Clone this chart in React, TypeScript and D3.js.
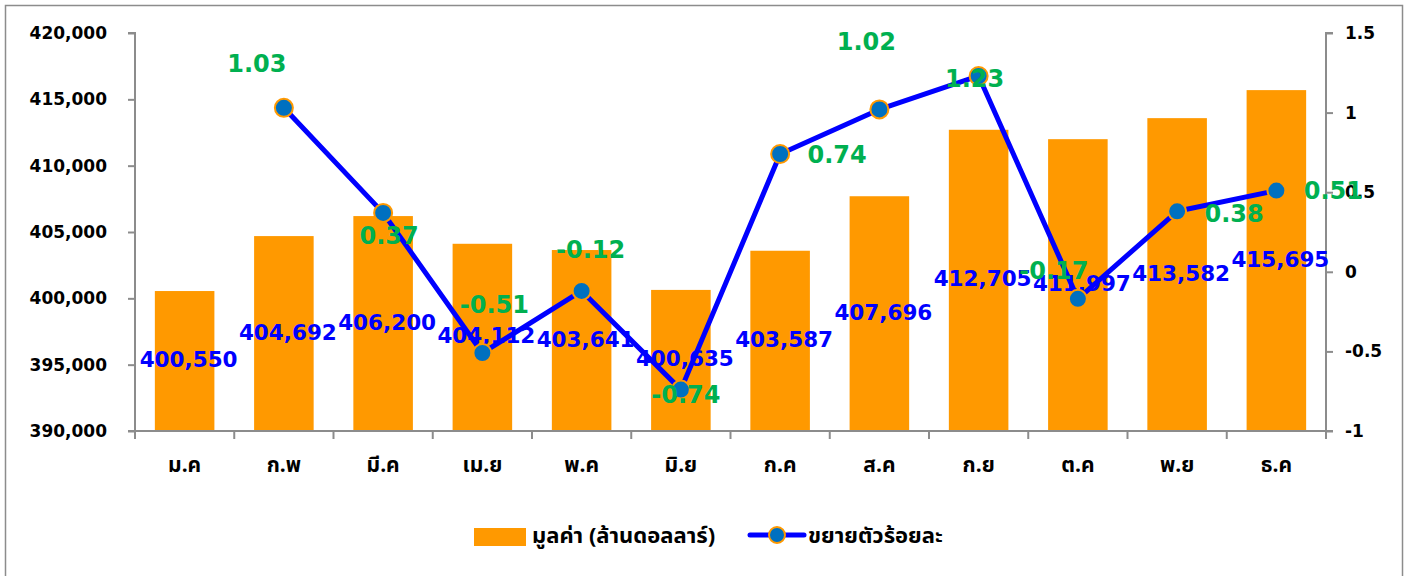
import React, { useEffect, useRef } from 'react';
import * as d3 from 'd3';

const months = ['ม.ค', 'ก.พ', 'มี.ค', 'เม.ย', 'พ.ค', 'มิ.ย', 'ก.ค', 'ส.ค', 'ก.ย', 'ต.ค', 'พ.ย', 'ธ.ค'];
const values = [400550, 404692, 406200, 404112, 403641, 400635, 403587, 407696, 412705, 411997, 413582, 415695];
const growth: (number | null)[] = [null, 1.03, 0.37, -0.51, -0.12, -0.74, 0.74, 1.02, 1.23, -0.17, 0.38, 0.51];
const leftTicks = [390000, 395000, 400000, 405000, 410000, 415000, 420000];
const rightTicks = [-1, -0.5, 0, 0.5, 1, 1.5];
const barLegend = 'มูลค่า (ล้านดอลลาร์)';
const lineLegend = 'ขยายตัวร้อยละ';

// hand placed growth label offsets (px from the marker), like the original
const growthLabelOffsets = [
  [0, 0], [-27, -43], [6, 24], [12, -47], [9, -40], [5, 6],
  [57, 2], [-13, -66], [-4, 4], [-24, -27], [57, 4], [57, 1],
];

const numFont = '"Comic Sans MS", "DejaVu Sans", sans-serif';
const thaiFont = 'Tahoma, "Noto Sans Thai", "Noto Sans", sans-serif';

export default function App() {
  const ref = useRef<SVGSVGElement>(null);

  useEffect(() => {
    const svg = d3.select(ref.current);
    svg.selectAll('*').remove();

    const left = 135, right = 1326, top = 33, bottom = 431;

    const x = d3.scaleBand<string>().domain(months).range([left, right]).paddingInner(0.4).paddingOuter(0.2);
    const yL = d3.scaleLinear().domain([390000, 420000]).range([bottom, top]);
    const yR = d3.scaleLinear().domain([-1, 1.5]).range([bottom, top]);
    const step = x.step();

    svg.append('rect')
      .attr('x', 5.5).attr('y', 5.5).attr('width', 1397).attr('height', 600)
      .attr('fill', 'white').attr('stroke', '#8c8c8c').attr('stroke-width', 1.5);

    // bars
    svg.append('g').selectAll('rect')
      .data(values)
      .enter()
      .append('rect')
      .attr('x', (d, i) => x(months[i])!)
      .attr('width', x.bandwidth())
      .attr('y', d => yL(d))
      .attr('height', d => yL(390000) - yL(d))
      .attr('fill', '#FF9900');

    // axes
    const axisL = svg.append('g')
      .attr('transform', 'translate(' + left + ',0)')
      .call(d3.axisLeft(yL).tickValues(leftTicks).tickFormat(d3.format(',') as any).tickSize(7).tickPadding(21));
    const axisR = svg.append('g')
      .attr('transform', 'translate(' + right + ',0)')
      .call(d3.axisRight(yR).tickValues(rightTicks).tickFormat((d: any) => String(d)).tickSize(7).tickPadding(12));
    [axisL, axisR].forEach(a => {
      a.selectAll('path, line').attr('stroke', '#8c8c8c').attr('stroke-width', 2);
      a.select('.domain').attr('d', a === axisL
        ? 'M-7,' + top + 'H0V' + bottom + 'H-7'
        : 'M7,' + top + 'H0V' + bottom + 'H7');
      a.selectAll('text')
        .attr('font-family', numFont).attr('font-size', 17).attr('font-weight', 'bold').attr('fill', '#000');
    });

    // x axis
    const xa = svg.append('g');
    xa.append('line')
      .attr('x1', left).attr('x2', right).attr('y1', bottom).attr('y2', bottom)
      .attr('stroke', '#8c8c8c').attr('stroke-width', 2);
    const bounds = months.map(m => x(m)! - step * 0.2).concat([right]);
    xa.selectAll('line.tick')
      .data(bounds)
      .enter()
      .append('line')
      .attr('class', 'tick')
      .attr('x1', d => d).attr('x2', d => d)
      .attr('y1', bottom).attr('y2', bottom + 8)
      .attr('stroke', '#8c8c8c').attr('stroke-width', 2);
    xa.selectAll('text')
      .data(months)
      .enter()
      .append('text')
      .attr('x', d => x(d)! + x.bandwidth() / 2)
      .attr('y', 466)
      .attr('text-anchor', 'middle')
      .attr('dominant-baseline', 'middle')
      .attr('font-family', thaiFont).attr('font-size', 21).attr('font-weight', 'bold')
      .text(d => d);

    // value labels, mid bar
    svg.append('g').selectAll('text')
      .data(values)
      .enter()
      .append('text')
      .attr('x', (d, i) => x(months[i])! + x.bandwidth() / 2 + 4)
      .attr('y', d => (yL(d) + yL(390000)) / 2)
      .attr('text-anchor', 'middle')
      .attr('dominant-baseline', 'middle')
      .attr('font-family', numFont).attr('font-size', 21.5).attr('font-weight', 'bold')
      .attr('fill', '#0000FF')
      .text(d => d3.format(',')(d));

    // growth line
    const pts = growth
      .map((g, i) => ({ g, i }))
      .filter(p => p.g !== null) as { g: number; i: number }[];
    const cx = (i: number) => x(months[i])! + x.bandwidth() / 2;

    const line = d3.line<{ g: number; i: number }>()
      .x(d => cx(d.i))
      .y(d => yR(d.g));
    svg.append('path')
      .datum(pts)
      .attr('d', line)
      .attr('fill', 'none')
      .attr('stroke', '#0000FF')
      .attr('stroke-width', 5)
      .attr('stroke-linejoin', 'round');

    svg.append('g').selectAll('circle')
      .data(pts)
      .enter()
      .append('circle')
      .attr('cx', d => cx(d.i))
      .attr('cy', d => yR(d.g))
      .attr('r', 9)
      .attr('fill', '#0070C0')
      .attr('stroke', '#FF9900')
      .attr('stroke-width', 2);

    svg.append('g').selectAll('text')
      .data(pts)
      .enter()
      .append('text')
      .attr('x', d => cx(d.i) + growthLabelOffsets[d.i][0])
      .attr('y', d => yR(d.g) + growthLabelOffsets[d.i][1])
      .attr('text-anchor', 'middle')
      .attr('dominant-baseline', 'middle')
      .attr('font-family', numFont).attr('font-size', 24).attr('font-weight', 'bold')
      .attr('fill', '#00B050')
      .text(d => d.g.toFixed(2));

    // legend
    const lg = svg.append('g');
    lg.append('rect').attr('x', 474).attr('y', 528).attr('width', 52).attr('height', 18).attr('fill', '#FF9900');
    lg.append('text')
      .attr('x', 532).attr('y', 537)
      .attr('dominant-baseline', 'middle')
      .attr('font-family', thaiFont).attr('font-size', 22).attr('font-weight', 'bold')
      .text(barLegend);
    lg.append('line')
      .attr('x1', 750).attr('x2', 804).attr('y1', 535).attr('y2', 535)
      .attr('stroke', '#0000FF').attr('stroke-width', 5).attr('stroke-linecap', 'round');
    lg.append('circle')
      .attr('cx', 777).attr('cy', 535).attr('r', 8)
      .attr('fill', '#0070C0').attr('stroke', '#FF9900').attr('stroke-width', 2);
    lg.append('text')
      .attr('x', 808).attr('y', 537)
      .attr('dominant-baseline', 'middle')
      .attr('font-family', thaiFont).attr('font-size', 22).attr('font-weight', 'bold')
      .text(lineLegend);
  }, []);

  return (
    <div style={{ position: 'absolute', left: 0, top: 0 }}>
      <svg ref={ref} width={1406} height={576} style={{ display: 'block' }} />
    </div>
  );
}
